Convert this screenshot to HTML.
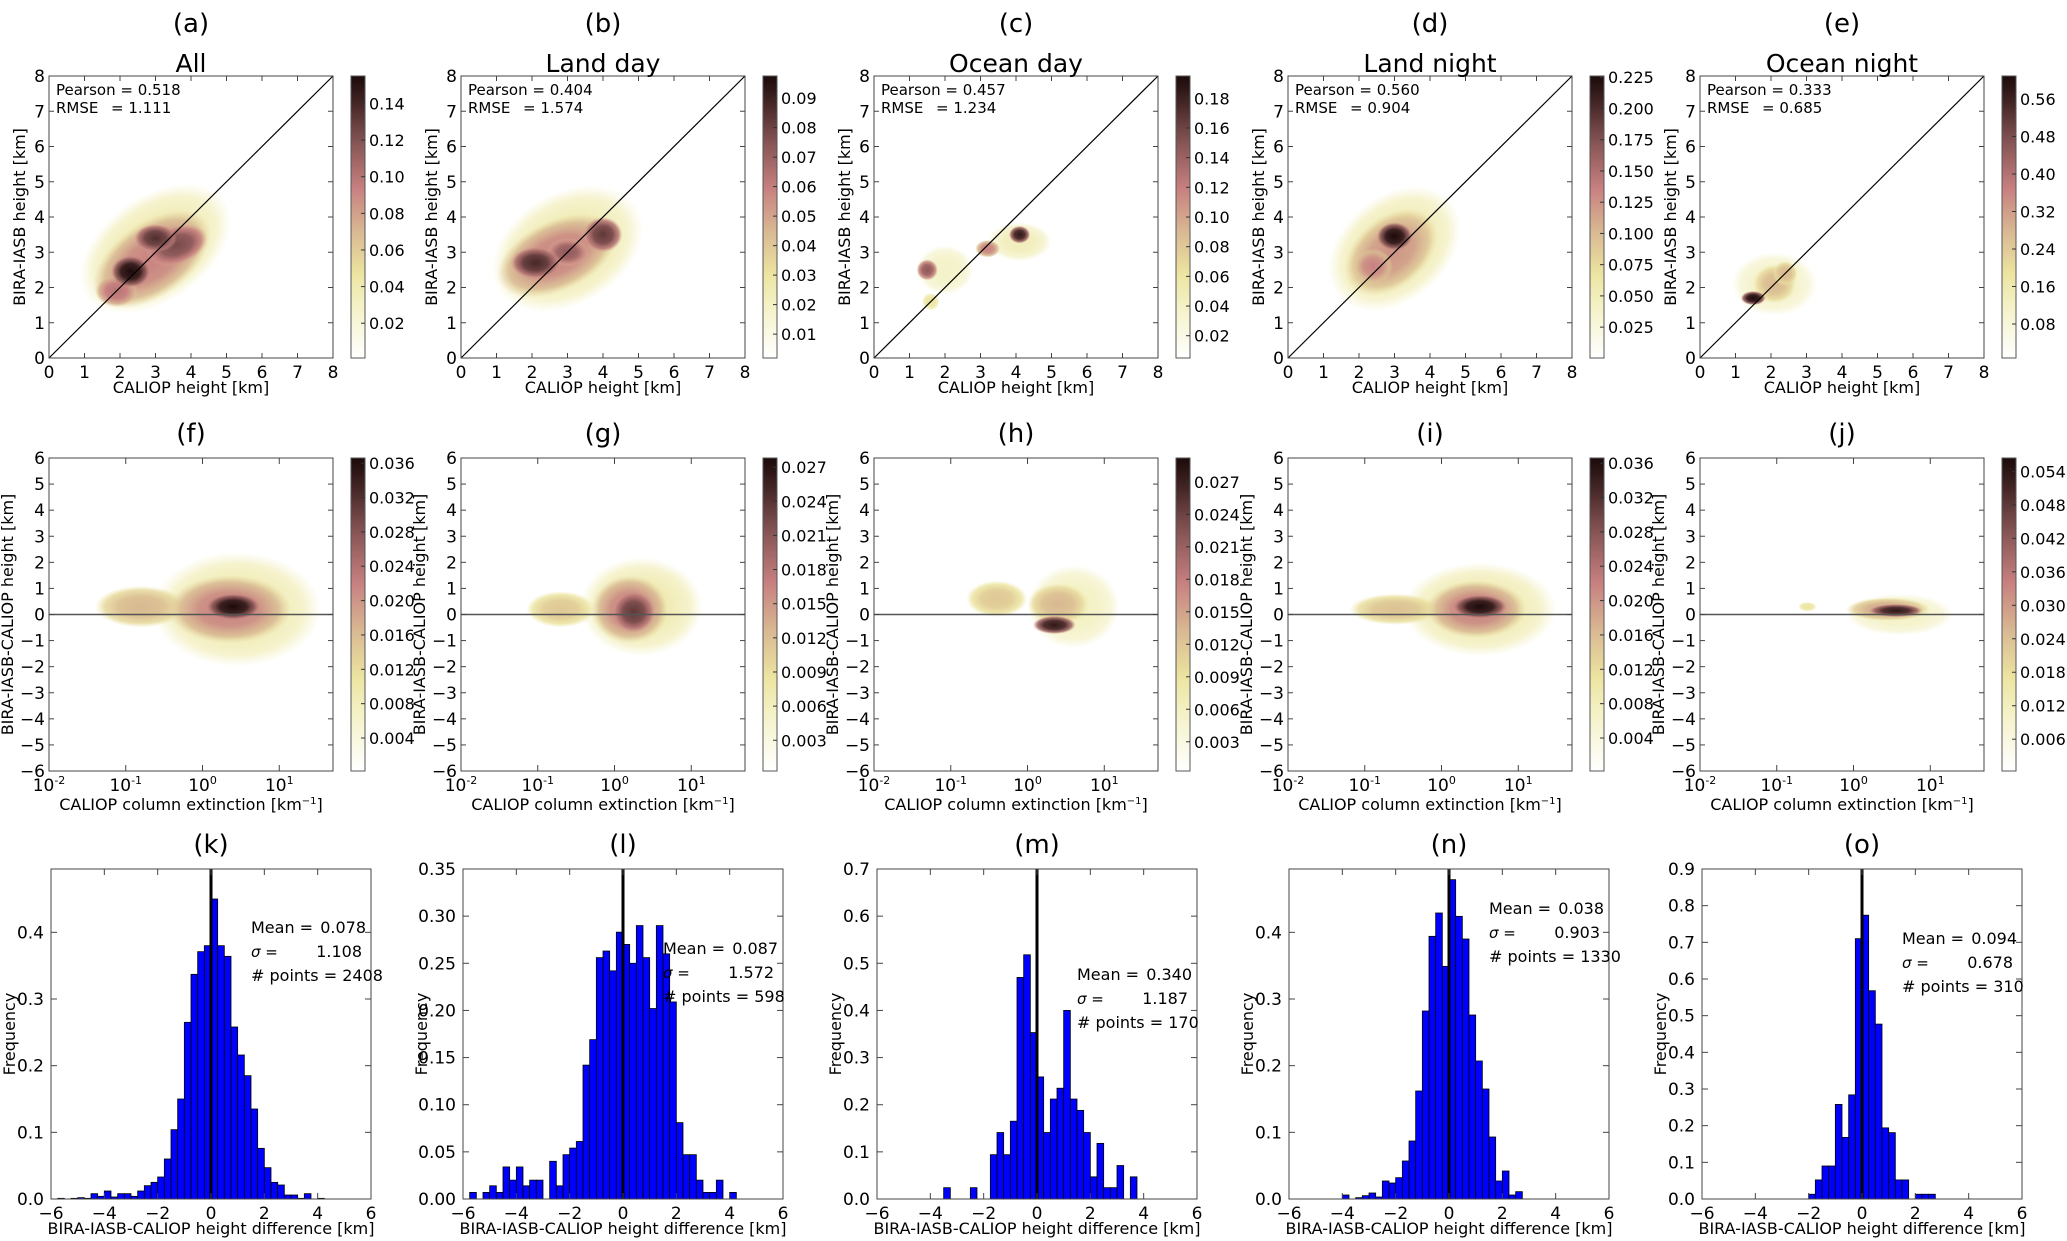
<!DOCTYPE html>
<html><head><meta charset="utf-8">
<style>
html,body{margin:0;padding:0;background:#fff;}
svg{display:block;font-family:"DejaVu Sans","Liberation Sans",sans-serif;}
</style></head>
<body>
<svg id="fig" width="2067" height="1241" viewBox="0 0 2067 1241" xmlns="http://www.w3.org/2000/svg">
<defs id="defs"></defs>
</svg>
<script>
// ---------- data ----------
const panelLetters1 = ["(a)","(b)","(c)","(d)","(e)"];
const panelLetters2 = ["(f)","(g)","(h)","(i)","(j)"];
const panelLetters3 = ["(k)","(l)","(m)","(n)","(o)"];
const subtitles = ["All","Land day","Ocean day","Land night","Ocean night"];
const pearson = ["0.518","0.404","0.457","0.560","0.333"];
const rmse = ["1.111","1.574","1.234","0.904","0.685"];
const cbarMin1 = [0.001,0.0019,0.005,0.0003,0.0075];
const cbarMax1 = [0.155,0.0975,0.195,0.226,0.609];
const cbarTicks1 = [
 ["0.02","0.04","0.06","0.08","0.10","0.12","0.14"],
 ["0.01","0.02","0.03","0.04","0.05","0.06","0.07","0.08","0.09"],
 ["0.02","0.04","0.06","0.08","0.10","0.12","0.14","0.16","0.18"],
 ["0.025","0.050","0.075","0.100","0.125","0.150","0.175","0.200","0.225"],
 ["0.08","0.16","0.24","0.32","0.40","0.48","0.56"]];
const cbarMin2 = [0.00016,0.0003,0.0003,0.00016,0.0003];
const cbarMax2 = [0.0366,0.0278,0.0292,0.0366,0.0564];
const cbarTicks2 = [
 ["0.004","0.008","0.012","0.016","0.020","0.024","0.028","0.032","0.036"],
 ["0.003","0.006","0.009","0.012","0.015","0.018","0.021","0.024","0.027"],
 ["0.003","0.006","0.009","0.012","0.015","0.018","0.021","0.024","0.027"],
 ["0.004","0.008","0.012","0.016","0.020","0.024","0.028","0.032","0.036"],
 ["0.006","0.012","0.018","0.024","0.030","0.036","0.042","0.048","0.054"]];
// density blobs: [x, y, sx, sy, level(0-1), angleDeg]
const blobs1 = [
 [[3.0,3.1,2.4,1.5,0.25,35],[2.9,2.8,1.9,1.05,0.6,35],[1.9,1.9,0.6,0.45,0.65,0],[3.6,3.2,0.9,0.55,0.8,20],[3.0,3.4,0.6,0.4,0.88,0],[2.3,2.45,0.55,0.45,1.0,0]],
 [[3.0,3.1,2.3,1.6,0.25,30],[2.7,2.9,1.8,1.0,0.6,25],[3.0,3.0,0.6,0.4,0.75,0],[4.0,3.5,0.55,0.5,0.85,0],[2.1,2.7,0.7,0.45,0.9,0]],
 [[2.0,2.5,0.8,0.7,0.18,0],[4.1,3.3,0.9,0.55,0.22,0],[1.6,1.6,0.25,0.25,0.3,0],[3.2,3.1,0.35,0.25,0.6,0],[1.5,2.5,0.3,0.3,0.75,0],[4.1,3.5,0.3,0.25,0.95,0]],
 [[3.0,3.1,2.1,1.5,0.25,40],[2.9,3.0,1.5,1.0,0.55,40],[2.4,2.6,0.55,0.5,0.6,0],[3.0,3.45,0.5,0.4,1.0,0]],
 [[2.1,2.1,1.2,0.9,0.18,0],[2.1,2.1,0.6,0.55,0.45,0],[2.4,2.4,0.35,0.35,0.45,0],[1.5,1.7,0.35,0.2,1.0,0]]];
// row 2: x in log10(extinction)
const blobs2 = [
 [[0.45,0.2,1.1,2.2,0.25,0],[-0.8,0.3,0.6,0.8,0.45,0],[0.35,0.2,0.8,1.3,0.6,0],[0.4,0.3,0.35,0.5,1.0,0]],
 [[0.35,0.3,0.8,1.9,0.25,0],[-0.7,0.2,0.45,0.7,0.4,0],[0.2,0.2,0.5,1.3,0.6,0],[0.25,0.1,0.28,0.8,0.85,0]],
 [[0.6,0.3,0.6,1.6,0.2,0],[-0.4,0.6,0.4,0.7,0.4,0],[0.4,0.4,0.4,0.8,0.45,0],[0.35,-0.4,0.28,0.35,0.95,0]],
 [[0.5,0.2,1.0,1.8,0.25,0],[-0.6,0.2,0.6,0.6,0.42,0],[0.45,0.2,0.65,1.1,0.6,0],[0.5,0.3,0.35,0.45,1.0,0]],
 [[0.6,0.0,0.7,0.8,0.18,0],[-0.6,0.3,0.12,0.18,0.3,0],[0.45,0.2,0.55,0.45,0.5,0],[0.55,0.15,0.35,0.25,0.95,0]]];
// histogram bins (start -6, width 0.25, 48 bins)
const histK = [0,0.001,0,0.001,0.002,0.001,0.008,0.004,0.012,0.003,0.008,0.008,0.004,0.012,0.02,0.025,0.033,0.06,0.104,0.15,0.265,0.337,0.371,0.38,0.45,0.38,0.364,0.258,0.216,0.185,0.135,0.076,0.047,0.025,0.021,0.006,0.006,0.001,0.008,0,0.001,0,0,0,0,0,0,0];
const histL = [0,0.007,0,0.007,0.014,0.007,0.034,0.02,0.034,0.014,0.02,0.02,0,0.04,0.014,0.047,0.054,0.061,0.142,0.169,0.256,0.263,0.242,0.283,0.27,0.25,0.29,0.256,0.202,0.29,0.26,0.209,0.081,0.047,0.047,0.02,0.007,0.007,0.02,0,0.007,0,0,0,0,0,0,0];
const histM = [0,0,0,0,0,0,0,0,0,0,0.024,0,0,0,0.024,0,0,0.094,0.141,0.094,0.165,0.47,0.518,0.353,0.259,0.141,0.212,0.235,0.4,0.212,0.188,0.141,0.047,0.118,0.024,0.024,0.071,0,0.047,0,0,0,0,0,0,0,0,0];
const histN = [0,0,0,0,0,0,0,0,0.006,0,0.002,0.005,0.009,0.003,0.027,0.024,0.032,0.057,0.087,0.162,0.282,0.394,0.429,0.349,0.479,0.424,0.39,0.276,0.207,0.165,0.093,0.027,0.042,0.006,0.011,0,0,0,0,0,0,0,0,0,0,0,0,0];
const histO = [0,0,0,0,0,0,0,0,0,0,0,0,0,0,0,0,0.013,0.052,0.09,0.09,0.258,0.168,0.284,0.71,0.774,0.568,0.477,0.194,0.181,0.052,0.052,0,0.013,0.013,0.013,0,0,0,0,0,0,0,0,0,0,0,0,0];
const histYMax = [0.495,0.35,0.7,0.495,0.9];
const histYTicks = [["0.0","0.1","0.2","0.3","0.4"],["0.00","0.05","0.10","0.15","0.20","0.25","0.30","0.35"],["0.0","0.1","0.2","0.3","0.4","0.5","0.6","0.7"],["0.0","0.1","0.2","0.3","0.4"],["0.0","0.1","0.2","0.3","0.4","0.5","0.6","0.7","0.8","0.9"]];
const meanVals = ["0.078","0.087","0.340","0.038","0.094"];
const sigmaVals = ["1.108","1.572","1.187","0.903","0.678"];
const pointCounts = ["2408","598","170","1330","310"];
const xTicks1 = ["0","1","2","3","4","5","6","7","8"];
const yTicks2 = ["−6","−5","−4","−3","−2","−1","0","1","2","3","4","5","6"];
const xTicksHist = ["−6","−4","−2","0","2","4","6"];

// ---------- layout ----------
const svg = document.getElementById('fig');
const defs = document.getElementById('defs');
const NS = "http://www.w3.org/2000/svg";
const L1 = [49,461,874,1288,1700];
const LH = [51,463,877,1289,1702];
const PW = 284, T1 = 76, H1 = 282, T2 = 458, H2 = 313, HW = 320, TH = 869, HH = 330;
const histData = [histK,histL,histM,histN,histO];
const statTop = [58,79,105,39,69];

function mk(tag, attrs, parent){ const e=document.createElementNS(NS,tag); for(const k in attrs) e.setAttribute(k,attrs[k]); (parent||svg).appendChild(e); return e; }
function txt(x,y,s,size,anchor,parent){ const t=mk('text',{x:x,y:y,'font-size':size,'text-anchor':anchor||'middle',fill:'#000'},parent); t.textContent=s; return t; }

const cmStops=[[0,[255,255,255]],[0.18,[244,242,200]],[0.3,[236,228,160]],[0.45,[216,184,146]],[0.6,[200,128,128]],[0.78,[128,80,80]],[0.92,[60,32,32]],[1,[28,10,10]]];
function cmap(v){ v=Math.max(0,Math.min(1,v)); for(let i=1;i<cmStops.length;i++){ if(v<=cmStops[i][0]){ const a=cmStops[i-1],b=cmStops[i],f=(v-a[0])/(b[0]-a[0]); const c=a[1].map((x,j)=>Math.round(x+(b[1][j]-x)*f)); return `rgb(${c[0]},${c[1]},${c[2]})`; } } return 'rgb(28,10,10)'; }

const lg=mk('linearGradient',{id:'cbg',x1:0,y1:1,x2:0,y2:0},defs);
for(let i=0;i<=20;i++) mk('stop',{offset:i/20,'stop-color':cmap(i/20)},lg);

let gid=0;
function drawBlobs(g, list, sx, sy){
  list.forEach(b=>{
    const id='rg'+(gid++);
    const rg=mk('radialGradient',{id:id},defs);
    mk('stop',{offset:0,'stop-color':cmap(b[4]),'stop-opacity':1},rg);
    mk('stop',{offset:0.5,'stop-color':cmap(b[4]*0.92),'stop-opacity':1},rg);
    mk('stop',{offset:0.8,'stop-color':cmap(b[4]*0.75),'stop-opacity':0.85},rg);
    mk('stop',{offset:1,'stop-color':cmap(b[4]*0.6),'stop-opacity':0},rg);
    const cx=sx(b[0]), cy=sy(b[1]);
    const rx=Math.abs(sx(b[0]+b[2])-cx), ry=Math.abs(sy(b[1]+b[3])-cy);
    const e=mk('ellipse',{cx:cx,cy:cy,rx:rx,ry:ry,fill:`url(#${id})`,transform:`rotate(${-b[5]} ${cx} ${cy})`},g);
    
    
  });
}
function frame(g,x,y,w,h){ const r=mk('rect',{x:x,y:y,width:w,height:h,fill:'none',stroke:'#444','stroke-width':1},g);   }
function colorbar(g,x,y,h,mn,mx,ticks){
  const r=mk('rect',{x:x,y:y,width:14,height:h,fill:'url(#cbg)',stroke:'#555','stroke-width':1},g);
   
  ticks.forEach(t=>{ const v=parseFloat(t); const ty=y+h-(v-mn)/(mx-mn)*h;
    mk('line',{x1:x+10,x2:x+14,y1:ty,y2:ty,stroke:'#333'},g);
    const tl=txt(x+18,ty+6,t,16,'start',g);   });
}

// ---------- row 1 ----------
for(let i=0;i<5;i++){
  const g=mk('g',{});  
  const L=L1[i];
  const sx=v=>L+v/8*PW, sy=v=>T1+H1-v/8*H1;
  const cp=mk('clipPath',{id:'c1'+i},defs); mk('rect',{x:L,y:T1,width:PW,height:H1},cp);
  const inner=mk('g',{'clip-path':`url(#c1${i})`},g);
  drawBlobs(inner,blobs1[i],sx,sy);
  mk('line',{x1:sx(0),y1:sy(0),x2:sx(8),y2:sy(8),stroke:'#000','stroke-width':1.2},g);
  frame(g,L,T1,PW,H1);
  xTicks1.forEach(t=>{ const v=+t;
    mk('line',{x1:sx(v),x2:sx(v),y1:T1+H1,y2:T1+H1-5,stroke:'#444'},g); mk('line',{x1:sx(v),x2:sx(v),y1:T1,y2:T1+5,stroke:'#444'},g);
    mk('line',{x1:L,x2:L+5,y1:sy(v),y2:sy(v),stroke:'#444'},g); mk('line',{x1:L+PW,x2:L+PW-5,y1:sy(v),y2:sy(v),stroke:'#444'},g);
    txt(sx(v),T1+H1+20,t,17,'middle',g); txt(L-4,sy(v)+6,t,17,'end',g); });
  txt(L+PW/2,393,'CALIOP height [km]',16,'middle',g);
  const yl=txt(0,0,'BIRA-IASB height [km]',16,'middle',g); yl.setAttribute('transform',`translate(${L-24} ${T1+H1/2}) rotate(-90)`); 
  txt(L+PW/2,32,panelLetters1[i],26,'middle',g);
  txt(L+PW/2,72,subtitles[i],25,'middle',g);
  txt(L+7,95,'Pearson = '+pearson[i],15,'start',g);
  const rt=txt(L+7,113,'RMSE',15,'start',g); 
  txt(L+62,113,'= '+rmse[i],15,'start',g);
  colorbar(g,L+302,T1,H1,cbarMin1[i],cbarMax1[i],cbarTicks1[i]);
}
// ---------- row 2 ----------
for(let i=0;i<5;i++){
  const g=mk('g',{});  
  const L=L1[i];
  const sx=v=>L+(v+2)/3.7*PW, sy=v=>T2+H2-(v+6)/12*H2;
  const cp=mk('clipPath',{id:'c2'+i},defs); mk('rect',{x:L,y:T2,width:PW,height:H2},cp);
  const inner=mk('g',{'clip-path':`url(#c2${i})`},g);
  drawBlobs(inner,blobs2[i],sx,sy);
  mk('line',{x1:L,y1:sy(0),x2:L+PW,y2:sy(0),stroke:'#555','stroke-width':1.5},g);
  frame(g,L,T2,PW,H2);
  [-2,-1,0,1].forEach(e=>{ const x=sx(e);
    mk('line',{x1:x,x2:x,y1:T2+H2,y2:T2+H2-6,stroke:'#444'},g); mk('line',{x1:x,x2:x,y1:T2,y2:T2+6,stroke:'#444'},g);
    const t=mk('text',{x:x,y:T2+H2+20,'font-size':17,'text-anchor':'middle'},g);
    t.appendChild(document.createTextNode('10'));
    const s=mk('tspan',{'font-size':11,dy:-7},t); s.textContent=(e<0?'-':'')+Math.abs(e);
  });
  yTicks2.forEach(t=>{ const v=parseFloat(t.replace('−','-')); const y=sy(v);
    mk('line',{x1:L,x2:L+5,y1:y,y2:y,stroke:'#444'},g); mk('line',{x1:L+PW,x2:L+PW-5,y1:y,y2:y,stroke:'#444'},g);
    txt(L-4,y+6,t,17,'end',g); });
  const xl=mk('text',{x:L+PW/2,y:810,'font-size':16,'text-anchor':'middle'},g);
  
  xl.appendChild(document.createTextNode('CALIOP column extinction [km'));
  const sp=mk('tspan',{'font-size':10,dy:-6},xl); sp.textContent='−1';
  const sp2=mk('tspan',{dy:6},xl); sp2.textContent=']';
  const yl=txt(0,0,'BIRA-IASB-CALIOP height [km]',16,'middle',g); yl.setAttribute('transform',`translate(${L-36} ${T2+H2/2}) rotate(-90)`); 
  txt(L+PW/2,442,panelLetters2[i],26,'middle',g);
  colorbar(g,L+302,T2,H2,cbarMin2[i],cbarMax2[i],cbarTicks2[i]);
}
// ---------- row 3 histograms ----------
for(let i=0;i<5;i++){
  const g=mk('g',{});  
  const L=LH[i], ym=histYMax[i];
  const sx=v=>L+(v+6)/12*HW, sy=v=>TH+HH-v/ym*HH;
  histData[i].forEach((v,k)=>{ if(v<=0) return; const x0=-6+k*0.25;
    const r=mk('rect',{x:sx(x0),y:sy(v),width:sx(x0+0.25)-sx(x0),height:sy(0)-sy(v),fill:'#0000ff',stroke:'#000','stroke-width':0.8},g);
      });
  mk('line',{x1:sx(0),x2:sx(0),y1:TH,y2:TH+HH,stroke:'#000','stroke-width':3},g);
  frame(g,L,TH,HW,HH);
  xTicksHist.forEach(t=>{ const v=parseFloat(t.replace('−','-'));
    mk('line',{x1:sx(v),x2:sx(v),y1:TH+HH,y2:TH+HH-6,stroke:'#444'},g); mk('line',{x1:sx(v),x2:sx(v),y1:TH,y2:TH+6,stroke:'#444'},g);
    txt(sx(v),TH+HH+20,t,17,'middle',g); });
  histYTicks[i].forEach(t=>{ const y=sy(parseFloat(t));
    mk('line',{x1:L,x2:L+6,y1:y,y2:y,stroke:'#444'},g); mk('line',{x1:L+HW,x2:L+HW-6,y1:y,y2:y,stroke:'#444'},g);
    txt(L-7,y+6,t,17,'end',g); });
  txt(L+HW/2,1234,'BIRA-IASB-CALIOP height difference [km]',16,'middle',g);
  const yl=txt(0,0,'Frequency',16,'middle',g); yl.setAttribute('transform',`translate(${L-36} ${TH+HH/2}) rotate(-90)`); 
  txt(L+HW/2,853,panelLetters3[i],26,'middle',g);
  const ty=TH+statTop[i]+6;
  txt(L+200,ty,'Mean =',16,'start',g);
  txt(L+315,ty,meanVals[i],16,'end',g);
  const sg=txt(L+200,ty+24,'σ =',15,'start',g); sg.setAttribute('font-style','italic'); 
  txt(L+311,ty+24,sigmaVals[i],16,'end',g);
  txt(L+200,ty+48,'# points = '+pointCounts[i],16,'start',g);
}
</script>
</body></html>
